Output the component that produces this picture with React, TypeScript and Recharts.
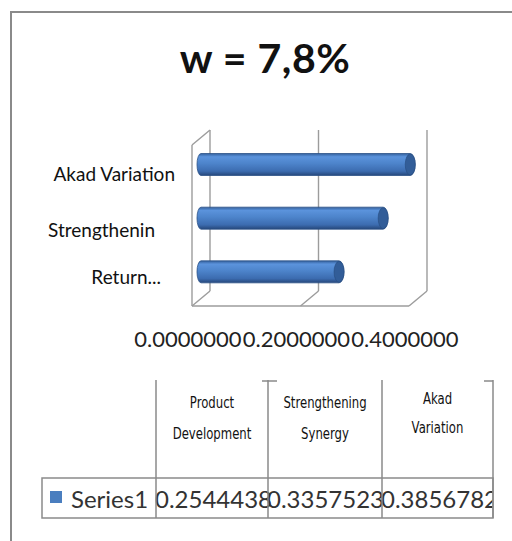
import React from "react";
import { BarChart, Bar, XAxis, YAxis, ReferenceLine, ReferenceArea } from "recharts";

// ---- data ----
const categories = ["Product Development", "Strengthening Synergy", "Akad Variation"];
const axisLabels = ["Return...", "Strengthenin", "Akad Variation"];
const headerLines = [["Product", "Development"], ["Strengthening", "Synergy"], ["Akad", "Variation"]];
const series1 = [0.2544438, 0.3357523, 0.3856782];
const xTicks = [0, 0.2, 0.4];
const seriesName = "Series1";
const title = "w = 7,8%";

const data = categories.map((c, i) => ({ name: axisLabels[i], full: c, value: series1[i] }));

// ---- styling ----
const W = 512;
const H = 541;
const DX = 9;
const DY = 7.5;
const FRAME = "#9c9c9c";
const FONT = "Lato, 'Open Sans', sans-serif";
const NARROW = "'DejaVu Sans', sans-serif";
const MARGIN = { top: 137.5, right: 94, bottom: 212.5, left: 51 };
const labelNudge = [
  { dx: -40, dy: 5 },
  { dx: -46, dy: 11 },
  { dx: -26, dy: 9 },
];

const Cylinder = (props: any) => {
  const { x, y, width, height } = props;
  if (width == null || height == null) return null;
  const r = 5;
  const ry = height / 2;
  const x0 = x;
  const x1 = x + width;
  const d = `M${x0},${y} L${x1},${y} A${r},${ry} 0 0 1 ${x1},${y + height} L${x0},${y + height} A${r - 1},${ry} 0 0 1 ${x0},${y} Z`;
  return (
    <g>
      <path d={d} fill="url(#cylGrad)" stroke="#2b5288" strokeWidth={0.8} />
      <ellipse cx={x1} cy={y + ry} rx={r} ry={ry - 0.5} fill="#325d98" stroke="#274b7e" strokeWidth={0.6} />
    </g>
  );
};

const Invisible = () => <g />;

const FrameShape = (props: any) => {
  const { x, y, width, height } = props;
  const top = y;
  const bot = y + height;
  const L = x;
  const R = x + width;
  const lines: [number, number, number, number][] = [
    [L + DX, top - DY, L + DX, bot - DY],
    [L - DX, top + DY, L - DX, bot + DY],
    [L - DX, top + DY, L + DX, top - DY],
    [L - DX, bot + DY, L + DX, bot - DY],
    [L - DX, bot + DY, R - DX, bot + DY],
    [R + DX, top - DY, R + DX, bot - DY],
    [R - DX, bot + DY, R + DX, bot - DY],
  ];
  return (
    <g>
      {lines.map((l, i) => (
        <line key={i} x1={l[0]} y1={l[1]} x2={l[2]} y2={l[3]} stroke={FRAME} strokeWidth={1.4} />
      ))}
    </g>
  );
};

const GridShape = (props: any) => {
  const { x1, y1, y2 } = props;
  const top = Math.min(y1, y2);
  const bot = Math.max(y1, y2);
  return (
    <g>
      <line x1={x1 + DX} y1={top - DY} x2={x1 + DX} y2={bot - DY} stroke={FRAME} strokeWidth={1.4} />
      <line x1={x1 - DX} y1={bot + DY} x2={x1 + DX} y2={bot - DY} stroke={FRAME} strokeWidth={1.4} />
    </g>
  );
};

const XTick = (props: any) => {
  const { x, y, payload } = props;
  return (
    <text x={x - DX - 4} y={y} dy={38} textAnchor="middle" dominantBaseline="central" fontFamily={FONT} fontSize={22} fill="#222">
      {Number(payload.value).toFixed(7)}
    </text>
  );
};

const YTick = (props: any) => {
  const { x, y, payload, index } = props;
  const n = labelNudge[index] || { dx: 0, dy: 0 };
  return (
    <text x={x + n.dx} y={y + n.dy} textAnchor="end" dominantBaseline="central" fontFamily={FONT} fontSize={19} fill="#111">
      {payload.value}
    </text>
  );
};

const cellEdges = [156, 268, 382, 493];

export default function App() {
  return (
    <div style={{ position: "absolute", left: 0, top: 0, width: W, height: H, background: "#fff" }}>
      <svg width={W} height={H} style={{ position: "absolute", left: 0, top: 0 }}>
        <path d={`M11,${H + 5} L11,12 L${W + 5},12`} fill="none" stroke="#8a8a8a" strokeWidth={2} />
        <text x={265} y={73} textAnchor="middle" fontFamily={FONT} fontWeight="bold" fontSize={41} letterSpacing={0.5} fill="#111">
          {title}
        </text>
      </svg>
      {/* back layer: 3D frame and axes */}
      <div style={{ position: "absolute", left: 0, top: 0 }}>
        <BarChart width={W} height={H} data={data} layout="vertical" margin={MARGIN} barSize={22}>
          <XAxis
            type="number"
            domain={[0, 0.4]}
            ticks={xTicks}
            interval={0}
            axisLine={false}
            tickLine={false}
            tickSize={0}
            height={30}
            tick={<XTick />}
          />
          <YAxis
            type="category"
            dataKey="name"
            reversed
            width={150}
            axisLine={false}
            tickLine={false}
            tickSize={0}
            tickMargin={0}
            interval={0}
            tick={<YTick />}
          />
          <ReferenceArea x1={0} x2={0.4} shape={<FrameShape />} fillOpacity={0} ifOverflow="visible" />
          <ReferenceLine x={0.2} shape={(p: any) => <GridShape {...p} />} ifOverflow="visible" />
          <Bar dataKey="value" isAnimationActive={false} shape={<Invisible />} fill="none" />
        </BarChart>
      </div>
      {/* front layer: cylinders */}
      <div style={{ position: "absolute", left: 0, top: 0 }}>
        <BarChart width={W} height={H} data={data} layout="vertical" margin={MARGIN} barSize={22}>
          <defs>
            <linearGradient id="cylGrad" x1="0" y1="0" x2="0" y2="1">
              <stop offset="0%" stopColor="#33609c" />
              <stop offset="15%" stopColor="#5b93dc" />
              <stop offset="45%" stopColor="#4d84cb" />
              <stop offset="80%" stopColor="#3c6cb0" />
              <stop offset="100%" stopColor="#26477a" />
            </linearGradient>
          </defs>
          <XAxis type="number" domain={[0, 0.4]} ticks={xTicks} axisLine={false} tickLine={false} tick={false} height={30} />
          <YAxis type="category" dataKey="name" reversed width={150} axisLine={false} tickLine={false} tick={false} />
          <Bar dataKey="value" isAnimationActive={false} shape={<Cylinder />} />
        </BarChart>
      </div>
      <svg width={W} height={H} style={{ position: "absolute", left: 0, top: 0, pointerEvents: "none" }}>
        <defs>
          <clipPath id="rowClip">
            <rect x={42} y={478} width={493 - 42} height={40} />
          </clipPath>
        </defs>
        {headerLines.map((lines, i) => {
          const cx = (cellEdges[i] + cellEdges[i + 1]) / 2;
          const base = i === 2 ? 399 : 403;
          const gap = i === 2 ? 29 : 31;
          return (
            <g key={i}>
              {lines.map((t, j) => (
                <text
                  key={j}
                  transform={`translate(${cx},${base + j * gap}) scale(0.78,1)`}
                  x={0}
                  y={0}
                  textAnchor="middle"
                  dominantBaseline="central"
                  fontFamily={NARROW}
                  fontSize={15}
                  fill="#111"
                >
                  {t}
                </text>
              ))}
            </g>
          );
        })}
        <rect x={50} y={491} width={12} height={12} fill="#4a7ebf" />
        <text x={71} y={498} dominantBaseline="central" fontFamily={FONT} fontSize={24} fill="#333">
          {seriesName}
        </text>
        <g clipPath="url(#rowClip)">
          {series1.map((v, i) => (
            <text key={i} x={cellEdges[i] - 1} y={498} dominantBaseline="central" fontFamily={FONT} fontSize={24} fill="#333">
              {v.toFixed(7)}
            </text>
          ))}
        </g>
        {cellEdges.map((x, i) => (
          <line key={i} x1={x} y1={380} x2={x} y2={518} stroke="#8a8a8a" strokeWidth={1.5} />
        ))}
        <line x1={262} y1={381} x2={277} y2={381} stroke="#8a8a8a" strokeWidth={1.5} />
        <line x1={484} y1={381} x2={493} y2={381} stroke="#8a8a8a" strokeWidth={1.5} />
        <rect x={42} y={478} width={493 - 42} height={40} fill="none" stroke="#8a8a8a" strokeWidth={1.5} />
      </svg>
    </div>
  );
}
